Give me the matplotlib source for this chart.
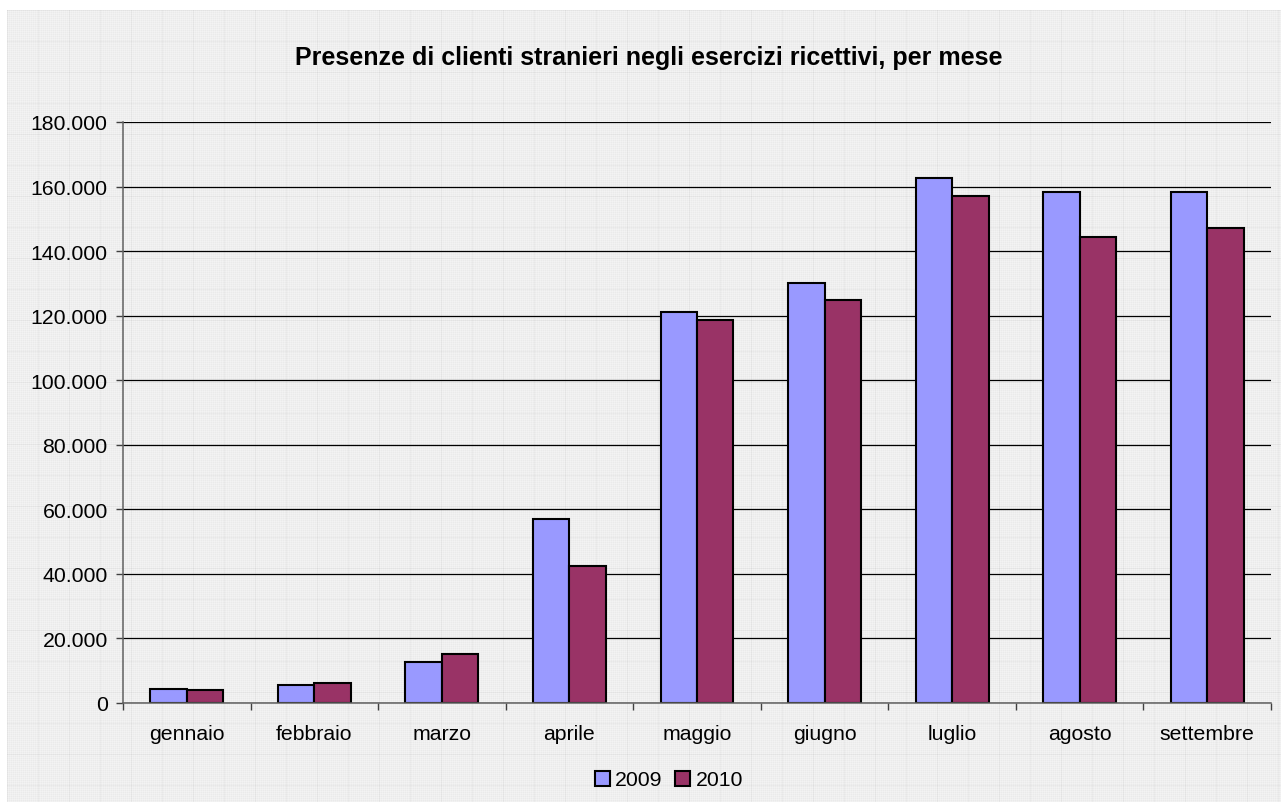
import numpy as np
import matplotlib
matplotlib.use("Agg")
import matplotlib.pyplot as plt
from matplotlib.ticker import FuncFormatter, FixedLocator
from matplotlib.patches import Patch

# ============== DATA ==============
mesi = ["gennaio", "febbraio", "marzo", "aprile", "maggio", "giugno",
        "luglio", "agosto", "settembre"]
presenze_2009 = [4450, 5700, 12800, 57100, 121000, 130200, 162500, 158300, 158400]
presenze_2010 = [4030, 6300, 15100, 42400, 118700, 125000, 157200, 144300, 147200]
y_ticks = list(range(0, 180001, 20000))

COL_2009 = "#9999FF"
COL_2010 = "#993366"

plt.rcParams["font.family"] = ["Liberation Sans", "DejaVu Sans"]

W, H = 1281, 803
fig = plt.figure(figsize=(W / 100, H / 100), dpi=100)
fig.patch.set_facecolor("white")

# ---- textured chart background (Excel-like fine grid pattern) ----
bx0, by0 = 7, 11
bw, bh = W - bx0, H - by0
tex = np.full((bh, bw), 0.955)
tex[::2, :] -= 0.02
tex[:, ::2] -= 0.02
tex[::31, :] -= 0.03
tex[:, ::31] -= 0.03
bg = fig.add_axes([bx0 / W, 0, bw / W, bh / H])
bg.imshow(tex, cmap="gray", vmin=0, vmax=1, aspect="auto", interpolation="nearest")
bg.set_axis_off()

# ---- plot area ----
left, right, top, bottom = 123, 1271, 123, 704
ax = fig.add_axes([left / W, (H - bottom) / H, (right - left) / W, (bottom - top) / H])
ax.patch.set_alpha(0)

x = np.arange(len(mesi))
bw_bar = 1 / 3.5
ax.bar(x - bw_bar / 2, presenze_2009, width=bw_bar, color=COL_2009,
       edgecolor="black", linewidth=1.5, zorder=3)
ax.bar(x + bw_bar / 2, presenze_2010, width=bw_bar, color=COL_2010,
       edgecolor="black", linewidth=1.5, zorder=3)

ax.set_xlim(-0.5, len(mesi) - 0.5)
ax.set_ylim(0, 180000)
ax.set_yticks(y_ticks)
ax.yaxis.set_major_formatter(FuncFormatter(lambda v, p: f"{int(v):,}".replace(",", ".")))
ax.yaxis.grid(True, color="black", linewidth=0.9, zorder=1)
ax.set_axisbelow(True)

ax.xaxis.set_major_locator(FixedLocator(np.arange(-0.5, len(mesi), 1.0)))
ax.xaxis.set_minor_locator(FixedLocator(x))
ax.set_xticklabels([])
ax.set_xticklabels(mesi, minor=True)
ax.tick_params(axis="x", which="major", direction="out", length=5, width=1, color="#404040")
ax.tick_params(axis="x", which="minor", length=0, pad=15, labelsize=15.3)
ax.tick_params(axis="y", direction="out", length=5, width=1, color="#404040", pad=6, labelsize=15.3)

for s in ("top", "right"):
    ax.spines[s].set_visible(False)
for s in ("left", "bottom"):
    ax.spines[s].set_color("#606060")
    ax.spines[s].set_linewidth(1.1)
ax.spines["bottom"].set_zorder(4)

fig.text(649 / W, 1 - 58 / H, "Presenze di clienti stranieri negli esercizi ricettivi, per mese",
         ha="center", va="center", fontsize=18, fontweight="bold")

handles = [Patch(facecolor=COL_2009, edgecolor="black", linewidth=1.5, label="2009"),
           Patch(facecolor=COL_2010, edgecolor="black", linewidth=1.5, label="2010")]
fig.legend(handles=handles, loc="center", bbox_to_anchor=(669 / W, 1 - 781 / H),
           ncol=2, frameon=False, fontsize=15.3, handlelength=0.7, handleheight=0.7,
           handletextpad=0.25, columnspacing=0.6, borderpad=0)

fig.savefig("out.png", dpi=100)
